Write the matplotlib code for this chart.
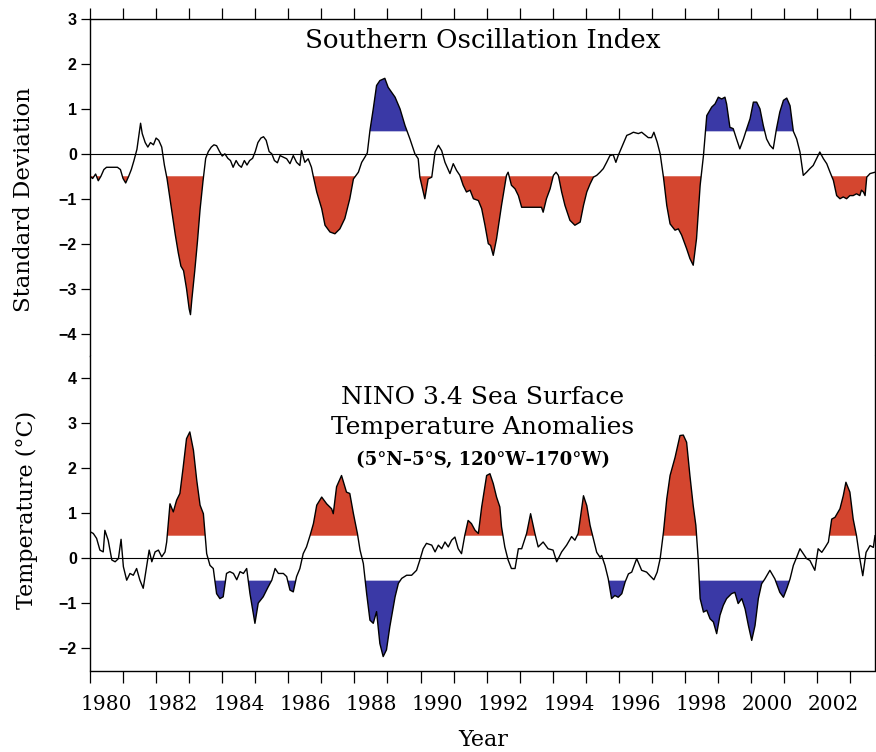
import numpy as np
import matplotlib.pyplot as plt

# Southern Oscillation Index (standard deviations)
soi_year = [
    1980.00, 1980.08, 1980.17, 1980.25, 1980.33, 1980.42, 1980.50, 1980.58, 1980.67, 1980.75,
    1980.83, 1980.92, 1981.00, 1981.08, 1981.17, 1981.25, 1981.33, 1981.42, 1981.53, 1981.58,
    1981.67, 1981.75, 1981.83, 1981.92, 1982.00, 1982.08, 1982.17, 1982.25, 1982.33, 1982.42,
    1982.50, 1982.58, 1982.67, 1982.75, 1982.83, 1982.92, 1983.00, 1983.04, 1983.08, 1983.17,
    1983.25, 1983.33, 1983.42, 1983.50, 1983.58, 1983.67, 1983.75, 1983.83, 1983.92, 1984.00,
    1984.08, 1984.17, 1984.25, 1984.33, 1984.42, 1984.50, 1984.58, 1984.67, 1984.75, 1984.83,
    1984.92, 1985.00, 1985.08, 1985.17, 1985.25, 1985.33, 1985.42, 1985.50, 1985.58, 1985.67,
    1985.75, 1985.95, 1986.05, 1986.15, 1986.25, 1986.35, 1986.40, 1986.50, 1986.60, 1986.70,
    1986.75, 1986.86, 1987.01, 1987.11, 1987.26, 1987.41, 1987.56, 1987.71, 1987.86, 1987.97,
    1988.12, 1988.22, 1988.32, 1988.39, 1988.47, 1988.57, 1988.67, 1988.77, 1988.92, 1989.02,
    1989.23, 1989.38, 1989.53, 1989.68, 1989.83, 1989.93, 1989.98, 1990.13, 1990.23, 1990.34,
    1990.44, 1990.54, 1990.64, 1990.74, 1990.89, 1990.99, 1991.09, 1991.19, 1991.29, 1991.39,
    1991.50, 1991.60, 1991.75, 1991.85, 1991.95, 1992.05, 1992.12, 1992.20, 1992.30, 1992.45,
    1992.60, 1992.65, 1992.75, 1992.86, 1992.96, 1993.06, 1993.26, 1993.51, 1993.66, 1993.71,
    1993.81, 1993.92, 1994.02, 1994.10, 1994.17, 1994.27, 1994.37, 1994.52, 1994.67, 1994.83,
    1994.93, 1995.03, 1995.13, 1995.23, 1995.33, 1995.43, 1995.53, 1995.63, 1995.73, 1995.83,
    1995.91, 1995.98, 1996.09, 1996.24, 1996.34, 1996.44, 1996.59, 1996.69, 1996.79, 1996.89,
    1996.99, 1997.06, 1997.16, 1997.25, 1997.35, 1997.45, 1997.55, 1997.70, 1997.80, 1997.90,
    1998.05, 1998.15, 1998.25, 1998.35, 1998.46, 1998.56, 1998.66, 1998.81, 1998.91, 1999.01,
    1999.11, 1999.21, 1999.26, 1999.36, 1999.46, 1999.56, 1999.66, 1999.77, 1999.87, 1999.97,
    2000.07, 2000.17, 2000.27, 2000.37, 2000.47, 2000.57, 2000.67, 2000.77, 2000.87, 2000.98,
    2001.08, 2001.18, 2001.28, 2001.38, 2001.48, 2001.58, 2001.68, 2001.78, 2001.88, 2001.98,
    2002.08, 2002.19, 2002.29, 2002.39, 2002.49, 2002.59, 2002.69, 2002.79, 2002.89, 2002.99,
    2003.09, 2003.19, 2003.29, 2003.34, 2003.40, 2003.45, 2003.50, 2003.60, 2003.75,
]
soi_value = [
    -0.50, -0.55, -0.45, -0.60, -0.50, -0.35, -0.30, -0.30, -0.30, -0.30,
    -0.30, -0.35, -0.55, -0.65, -0.50, -0.35, -0.15, 0.10, 0.68, 0.45,
    0.25, 0.15, 0.25, 0.20, 0.35, 0.30, 0.15, -0.25, -0.55, -1.00,
    -1.40, -1.80, -2.20, -2.50, -2.60, -3.00, -3.45, -3.58, -3.25, -2.60,
    -1.96, -1.24, -0.60, -0.10, 0.05, 0.15, 0.20, 0.18, 0.05, -0.05,
    0.00, -0.10, -0.15, -0.30, -0.15, -0.25, -0.30, -0.15, -0.25, -0.15,
    -0.10, 0.05, 0.25, 0.35, 0.38, 0.30, 0.05, 0.00, -0.15, -0.20,
    -0.04, -0.11, -0.22, -0.04, -0.19, -0.26, 0.07, -0.19, -0.11, -0.30,
    -0.48, -0.85, -1.22, -1.59, -1.74, -1.78, -1.67, -1.44, -1.00, -0.56,
    -0.41, -0.19, -0.07, 0.02, 0.52, 1.00, 1.52, 1.63, 1.68, 1.48,
    1.26, 1.00, 0.63, 0.33, 0.00, -0.11, -0.52, -1.00, -0.56, -0.52,
    0.04, 0.19, 0.07, -0.19, -0.44, -0.22, -0.37, -0.48, -0.70, -0.85,
    -0.81, -1.00, -1.04, -1.22, -1.59, -2.00, -2.04, -2.26, -1.89, -1.15,
    -0.48, -0.41, -0.70, -0.78, -0.93, -1.19, -1.19, -1.19, -1.19, -1.30,
    -1.00, -0.78, -0.48, -0.41, -0.48, -0.85, -1.15, -1.48, -1.59, -1.52,
    -1.15, -0.85, -0.67, -0.52, -0.48, -0.41, -0.33, -0.19, -0.04, -0.02,
    -0.19, -0.04, 0.15, 0.41, 0.44, 0.48, 0.45, 0.48, 0.42, 0.36,
    0.36, 0.48, 0.26, 0.00, -0.52, -1.15, -1.56, -1.70, -1.67, -1.81,
    -2.11, -2.33, -2.48, -1.89, -0.70, -0.04, 0.85, 1.04, 1.11, 1.26,
    1.22, 1.26, 1.11, 0.59, 0.56, 0.33, 0.11, 0.33, 0.56, 0.78,
    1.15, 1.15, 1.00, 0.63, 0.33, 0.19, 0.11, 0.56, 0.93, 1.19,
    1.24, 1.07, 0.50, 0.33, 0.04, -0.48, -0.41, -0.33, -0.26, -0.11,
    0.04, -0.11, -0.22, -0.41, -0.59, -0.93, -1.00, -0.96, -1.00, -0.93,
    -0.93, -0.89, -0.93, -0.81, -0.85, -0.93, -0.52, -0.44, -0.41,
]

# NINO 3.4 sea surface temperature anomalies (deg C)
sst_year = [
    1980.00, 1980.10, 1980.20, 1980.30, 1980.40, 1980.45, 1980.55, 1980.66, 1980.76, 1980.86,
    1980.94, 1981.01, 1981.11, 1981.21, 1981.31, 1981.41, 1981.51, 1981.61, 1981.71, 1981.79,
    1981.87, 1981.97, 1982.07, 1982.17, 1982.27, 1982.32, 1982.42, 1982.52, 1982.62, 1982.72,
    1982.82, 1982.92, 1983.02, 1983.13, 1983.23, 1983.33, 1983.43, 1983.53, 1983.63, 1983.73,
    1983.83, 1983.93, 1984.03, 1984.13, 1984.23, 1984.34, 1984.44, 1984.54, 1984.64, 1984.74,
    1984.84, 1984.99, 1985.09, 1985.24, 1985.39, 1985.50, 1985.60, 1985.70, 1985.85, 1985.95,
    1986.05, 1986.15, 1986.25, 1986.35, 1986.45, 1986.55, 1986.66, 1986.76, 1986.86, 1987.01,
    1987.16, 1987.31, 1987.36, 1987.46, 1987.61, 1987.76, 1987.86, 1987.97, 1988.09, 1988.17,
    1988.27, 1988.37, 1988.47, 1988.57, 1988.67, 1988.77, 1988.87, 1988.97, 1989.07, 1989.23,
    1989.33, 1989.43, 1989.58, 1989.73, 1989.88, 1989.98, 1990.08, 1990.18, 1990.34, 1990.44,
    1990.54, 1990.64, 1990.74, 1990.84, 1990.94, 1991.04, 1991.14, 1991.24, 1991.34, 1991.44,
    1991.54, 1991.65, 1991.75, 1991.85, 1992.00, 1992.10, 1992.20, 1992.30, 1992.40, 1992.45,
    1992.55, 1992.65, 1992.75, 1992.86, 1992.96, 1993.06, 1993.21, 1993.33, 1993.46, 1993.56,
    1993.71, 1993.86, 1994.01, 1994.12, 1994.27, 1994.42, 1994.57, 1994.67, 1994.77, 1994.93,
    1995.03, 1995.13, 1995.23, 1995.33, 1995.43, 1995.48, 1995.58, 1995.68, 1995.78, 1995.88,
    1995.98, 1996.09, 1996.19, 1996.29, 1996.39, 1996.54, 1996.69, 1996.84, 1996.94, 1997.06,
    1997.16, 1997.25, 1997.35, 1997.45, 1997.55, 1997.70, 1997.85, 1997.95, 1998.05, 1998.15,
    1998.25, 1998.33, 1998.40, 1998.46, 1998.56, 1998.66, 1998.76, 1998.86, 1998.96, 1999.06,
    1999.16, 1999.26, 1999.41, 1999.51, 1999.61, 1999.72, 1999.82, 1999.92, 2000.02, 2000.12,
    2000.22, 2000.32, 2000.42, 2000.57, 2000.72, 2000.87, 2000.98, 2001.08, 2001.18, 2001.28,
    2001.38, 2001.48, 2001.58, 2001.68, 2001.78, 2001.93, 2002.03, 2002.14, 2002.24, 2002.34,
    2002.44, 2002.54, 2002.69, 2002.79, 2002.87, 2002.99, 2003.09, 2003.19, 2003.29, 2003.38,
    2003.48, 2003.60, 2003.70, 2003.75,
]
sst_value = [
    0.59, 0.55, 0.44, 0.18, 0.14, 0.62, 0.40, -0.04, -0.08, -0.01,
    0.42, -0.19, -0.49, -0.34, -0.38, -0.23, -0.49, -0.67, -0.19, 0.18,
    -0.08, 0.14, 0.18, 0.03, 0.14, 0.36, 1.21, 1.03, 1.29, 1.44,
    2.03, 2.66, 2.81, 2.40, 1.73, 1.18, 0.99, 0.10, -0.16, -0.23,
    -0.79, -0.90, -0.86, -0.34, -0.30, -0.34, -0.48, -0.30, -0.34, -0.23,
    -0.79, -1.45, -1.00, -0.86, -0.64, -0.49, -0.23, -0.34, -0.34, -0.41,
    -0.71, -0.75, -0.41, -0.23, 0.10, 0.25, 0.51, 0.77, 1.18, 1.36,
    1.21, 1.10, 0.99, 1.59, 1.84, 1.47, 1.44, 0.99, 0.55, 0.18,
    -0.12, -0.79, -1.38, -1.45, -1.19, -1.90, -2.19, -2.04, -1.53, -0.86,
    -0.56, -0.45, -0.38, -0.38, -0.27, -0.04, 0.21, 0.33, 0.29, 0.14,
    0.29, 0.21, 0.36, 0.25, 0.40, 0.47, 0.21, 0.10, 0.51, 0.84,
    0.77, 0.62, 0.55, 1.14, 1.84, 1.88, 1.66, 1.36, 1.14, 0.70,
    0.25, -0.04, -0.23, -0.23, 0.21, 0.21, 0.55, 0.99, 0.55, 0.25,
    0.36, 0.21, 0.18, -0.08, 0.14, 0.29, 0.48, 0.40, 0.55, 1.39,
    1.17, 0.73, 0.43, 0.13, 0.02, 0.06, -0.16, -0.46, -0.90, -0.83,
    -0.87, -0.79, -0.53, -0.35, -0.31, -0.01, -0.27, -0.31, -0.39, -0.48,
    -0.31, -0.01, 0.58, 1.32, 1.84, 2.24, 2.73, 2.74, 2.58, 1.84,
    1.17, 0.73, -0.01, -0.90, -1.20, -1.16, -1.35, -1.42, -1.68, -1.27,
    -1.05, -0.90, -0.79, -0.76, -1.01, -0.90, -1.13, -1.50, -1.83, -1.50,
    -0.90, -0.57, -0.46, -0.27, -0.46, -0.76, -0.87, -0.68, -0.46, -0.16,
    0.02, 0.21, 0.10, -0.01, -0.05, -0.27, 0.21, 0.13, 0.24, 0.36,
    0.87, 0.91, 1.10, 1.39, 1.69, 1.47, 0.87, 0.50, -0.01, -0.39,
    0.13, 0.28, 0.24, 0.50,
]

# stretches the original leaves unshaded although they pass the +/-0.5 level
soi_unshaded = [(1981.3, 1981.8)]
sst_unshaded = [(1979.9, 1980.8), (1981.4, 1981.7)]

year_ticks = list(range(1980, 2004))
year_labels = [str(y) for y in range(1980, 2003, 2)]

RED = "#d4462f"
BLUE = "#3a39a6"
SERIF = "DejaVu Serif"


def shade(ax, x, y, level, color, above, skip):
    x = np.asarray(x)
    y = np.asarray(y)
    keep = np.ones(len(x), dtype=bool)
    for a, b in skip:
        keep &= ~((x >= a) & (x <= b))
    where = (y >= level) if above else (y <= level)
    ax.fill_between(x, y, level, where=where & keep, interpolate=True,
                    color=color, linewidth=0, zorder=1)


def style_axes(ax, yticks):
    ax.set_xlim(1980, 2003.75)
    ax.set_xticks(year_ticks)
    ax.set_xticklabels([])
    ax.set_yticks(yticks)
    ax.set_yticklabels([str(v).replace("-", "\u2212") for v in yticks])
    ax.tick_params(axis="y", direction="out", length=6.5, width=0.9, pad=3,
                   right=False, labelsize=11.5)
    for lab in ax.get_yticklabels():
        lab.set_fontfamily("Liberation Sans")
        lab.set_fontweight("bold")
    for sp in ax.spines.values():
        sp.set_linewidth(1.0)
    ax.axhline(0, color="black", linewidth=0.8, zorder=2)


fig = plt.figure(figsize=(8.76, 7.52), dpi=100)
left, width = 90 / 876, 785 / 876
ax1 = fig.add_axes([left, 1 - 356 / 752, width, 337 / 752])
ax2 = fig.add_axes([left, 1 - 670.5 / 752, width, 314.5 / 752])

# upper panel: SOI
shade(ax1, soi_year, soi_value, -0.5, RED, False, soi_unshaded)
shade(ax1, soi_year, soi_value, 0.5, BLUE, True, soi_unshaded)
ax1.plot(soi_year, soi_value, color="black", linewidth=1.0, zorder=3)
ax1.set_ylim(-4.5, 3)
style_axes(ax1, list(range(-4, 4)))
ax1.spines["bottom"].set_visible(False)
ax1.xaxis.set_ticks_position("top")
ax1.tick_params(axis="x", which="major", direction="out", length=8, width=0.9,
                top=True, bottom=False, labeltop=False, labelbottom=False)
ax1.text(0.5, 0.935, "Southern Oscillation Index", transform=ax1.transAxes,
         ha="center", va="center", fontsize=18.8, family=SERIF)

# lower panel: NINO 3.4 SST anomalies
shade(ax2, sst_year, sst_value, 0.5, RED, True, sst_unshaded)
shade(ax2, sst_year, sst_value, -0.5, BLUE, False, sst_unshaded)
ax2.plot(sst_year, sst_value, color="black", linewidth=1.0, zorder=3)
ax2.set_ylim(-2.5, 4.5)
style_axes(ax2, list(range(-2, 5)))
ax2.spines["top"].set_visible(False)
ax2.xaxis.set_ticks_position("bottom")
ax2.tick_params(axis="x", which="major", direction="out", length=8.5, width=0.9,
                top=False, bottom=True)
ax2.set_xticks(np.arange(1980, 2003, 2) + 0.5, minor=True)
ax2.set_xticklabels(year_labels, minor=True)
ax2.tick_params(axis="x", which="minor", length=0, pad=18, labelsize=14.5)
for lab in ax2.get_xticklabels(minor=True):
    lab.set_fontfamily(SERIF)

ax2.text(0.5, 1 - (398 - 356) / 314.5, "NINO 3.4 Sea Surface", transform=ax2.transAxes,
         ha="center", va="center", fontsize=18, family=SERIF)
ax2.text(0.5, 1 - (428 - 356) / 314.5, "Temperature Anomalies", transform=ax2.transAxes,
         ha="center", va="center", fontsize=18, family=SERIF)
ax2.text(0.5, 1 - (460 - 356) / 314.5, "(5°N\u20135°S, 120°W\u2013170°W)",
         transform=ax2.transAxes, ha="center", va="center", fontsize=13,
         fontweight="bold", family=SERIF)

fig.text(24 / 876, 1 - 200 / 752, "Standard Deviation", rotation=90,
         ha="center", va="center", fontsize=16.5, family=SERIF)
fig.text(27 / 876, 1 - 510 / 752, "Temperature (°C)", rotation=90,
         ha="center", va="center", fontsize=16, family=SERIF)
fig.text(483 / 876, 1 - 740 / 752, "Year", ha="center", va="center",
         fontsize=16, family=SERIF)

fig.savefig("out.png", dpi=100, facecolor="white")
